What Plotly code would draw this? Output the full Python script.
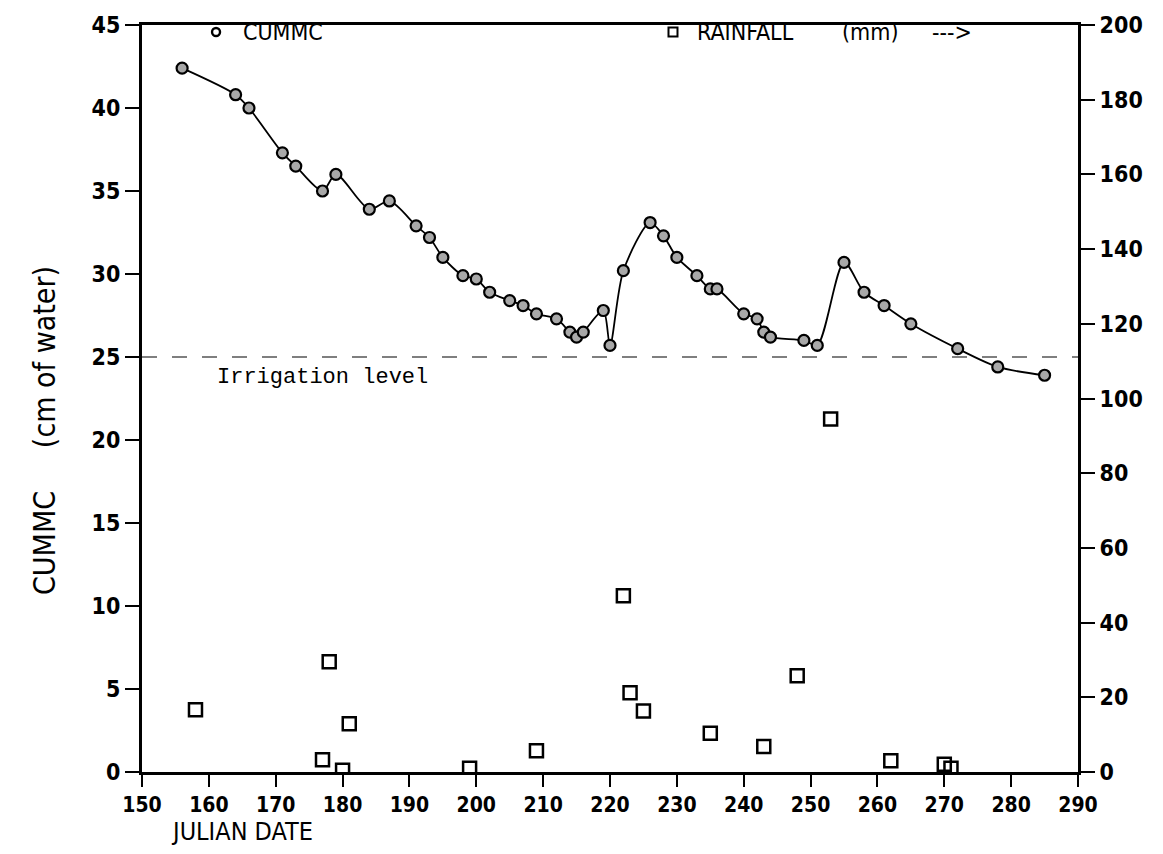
import plotly.graph_objects as go

# Cumulative soil moisture content (cm of water) by Julian date
cummc_day = [156, 164, 166, 171, 173, 177, 179, 184, 187, 191, 193, 195, 198, 200,
             202, 205, 207, 209, 212, 214, 215, 216, 219, 220, 222, 226, 228, 230,
             233, 235, 236, 240, 242, 243, 244, 249, 251, 255, 258, 261, 265, 272,
             278, 285]
cummc_val = [42.4, 40.8, 40.0, 37.3, 36.5, 35.0, 36.0, 33.9, 34.4, 32.9, 32.2, 31.0,
             29.9, 29.7, 28.9, 28.4, 28.1, 27.6, 27.3, 26.5, 26.2, 26.5, 27.8, 25.7,
             30.2, 33.1, 32.3, 31.0, 29.9, 29.1, 29.1, 27.6, 27.3, 26.5, 26.2, 26.0,
             25.7, 30.7, 28.9, 28.1, 27.0, 25.5, 24.4, 23.9]

# Daily rainfall (mm) by Julian date
rain_day = [158, 177, 178, 180, 181, 199, 209, 222, 223, 225, 235, 243, 248, 253,
            262, 270, 271]
rain_mm = [16.7, 3.3, 29.5, 0.5, 12.9, 1.0, 5.7, 47.2, 21.2, 16.3, 10.4, 6.8, 25.8,
           94.5, 3.0, 2.1, 1.0]

irrigation_level = 25

x_ticks = list(range(150, 291, 10))
y_ticks = list(range(0, 46, 5))
y2_ticks = list(range(0, 201, 20))

narrow = "DejaVu Sans Condensed, Liberation Sans Narrow, sans-serif"
mono = "Liberation Mono, DejaVu Sans Mono, monospace"
x_tick_font = dict(family=narrow, size=21, color="black", weight="bold")
y_tick_font = dict(family=narrow, size=23, color="black", weight="bold")
label_font = dict(family=narrow, size=23, color="black")

fig = go.Figure()

# smooth curve through the CUMMC points
fig.add_trace(go.Scatter(
    x=cummc_day, y=cummc_val, mode="lines",
    line=dict(color="black", width=1.8, shape="spline", smoothing=0.8),
    showlegend=False, hoverinfo="skip",
))
fig.add_trace(go.Scatter(
    x=cummc_day, y=cummc_val, mode="markers", name="CUMMC", showlegend=False,
    marker=dict(symbol="circle", size=11, color="#a8a8a8",
                line=dict(color="black", width=2.2)),
))
fig.add_trace(go.Scatter(
    x=rain_day, y=rain_mm, mode="markers", yaxis="y2", name="RAINFALL (mm)",
    showlegend=False,
    marker=dict(symbol="square-open", size=13, color="black",
                line=dict(color="black", width=2.5)),
))

# irrigation threshold
fig.add_shape(type="line", xref="paper", x0=0, x1=1, yref="y",
              y0=irrigation_level, y1=irrigation_level,
              line=dict(color="black", width=1.2, dash="longdash"))
fig.add_annotation(x=160.9, y=irrigation_level, xref="x", yref="y",
                   text="Irrigation level", showarrow=False,
                   xanchor="left", yanchor="middle", yshift=-20,
                   font=dict(family=mono, size=22, color="black"))

# key across the top of the plot
fig.add_shape(type="circle", xref="paper", yref="paper",
              xsizemode="pixel", ysizemode="pixel",
              xanchor=0.0791, yanchor=0.9906, x0=-4, x1=4, y0=-4, y1=4,
              line=dict(color="black", width=2.4), fillcolor="white")
fig.add_annotation(x=0.1058, y=0.9906, xref="paper", yref="paper", text="CUMMC",
                   showarrow=False, xanchor="left", yanchor="middle", font=label_font)
fig.add_shape(type="rect", xref="paper", yref="paper",
              xsizemode="pixel", ysizemode="pixel",
              xanchor=0.5673, yanchor=0.9906, x0=-4.5, x1=4.5, y0=-4.5, y1=4.5,
              line=dict(color="black", width=2), fillcolor="white")
for xp, txt in [(0.5908, "RAINFALL"), (0.7457, "(mm)"), (0.8419, "--->")]:
    fig.add_annotation(x=xp, y=0.9906, xref="paper", yref="paper", text=txt,
                       showarrow=False, xanchor="left", yanchor="middle",
                       font=label_font)

# axis titles
fig.add_annotation(x=-0.1036, y=0.4565, xref="paper", yref="paper",
                   text="CUMMC\u00a0\u00a0\u00a0\u00a0\u00a0(cm of water)",
                   textangle=-90, showarrow=False, xanchor="center", yanchor="middle",
                   font=dict(family=narrow, size=30, color="black"))
fig.add_annotation(x=0.029, y=-0.058, xref="paper", yref="paper", text="JULIAN DATE",
                   showarrow=False, xanchor="left", yanchor="top",
                   font=dict(family=narrow, size=25, color="black"))

fig.update_layout(
    width=1163, height=854,
    margin=dict(l=142, r=85, t=25, b=82),
    paper_bgcolor="white", plot_bgcolor="white",
    showlegend=False,
    xaxis=dict(
        range=[150, 290], tickvals=x_ticks, ticktext=[str(t) for t in x_ticks],
        showgrid=False, zeroline=False,
        showline=True, linecolor="black", linewidth=3, mirror=True,
        ticks="outside", ticklen=12, tickwidth=2, tickcolor="black",
        tickfont=x_tick_font,
    ),
    yaxis=dict(
        range=[0, 45], tickvals=y_ticks,
        showgrid=False, zeroline=False,
        showline=True, linecolor="black", linewidth=3,
        ticks="outside", ticklen=14, tickwidth=1.5, tickcolor="black",
        tickfont=y_tick_font,
    ),
    yaxis2=dict(
        range=[0, 200], tickvals=y2_ticks, overlaying="y", side="right",
        showgrid=False, zeroline=False,
        showline=True, linecolor="black", linewidth=3,
        ticks="outside", ticklen=14, tickwidth=2, tickcolor="black",
        tickfont=y_tick_font,
    ),
)

fig.write_html("out.html")
